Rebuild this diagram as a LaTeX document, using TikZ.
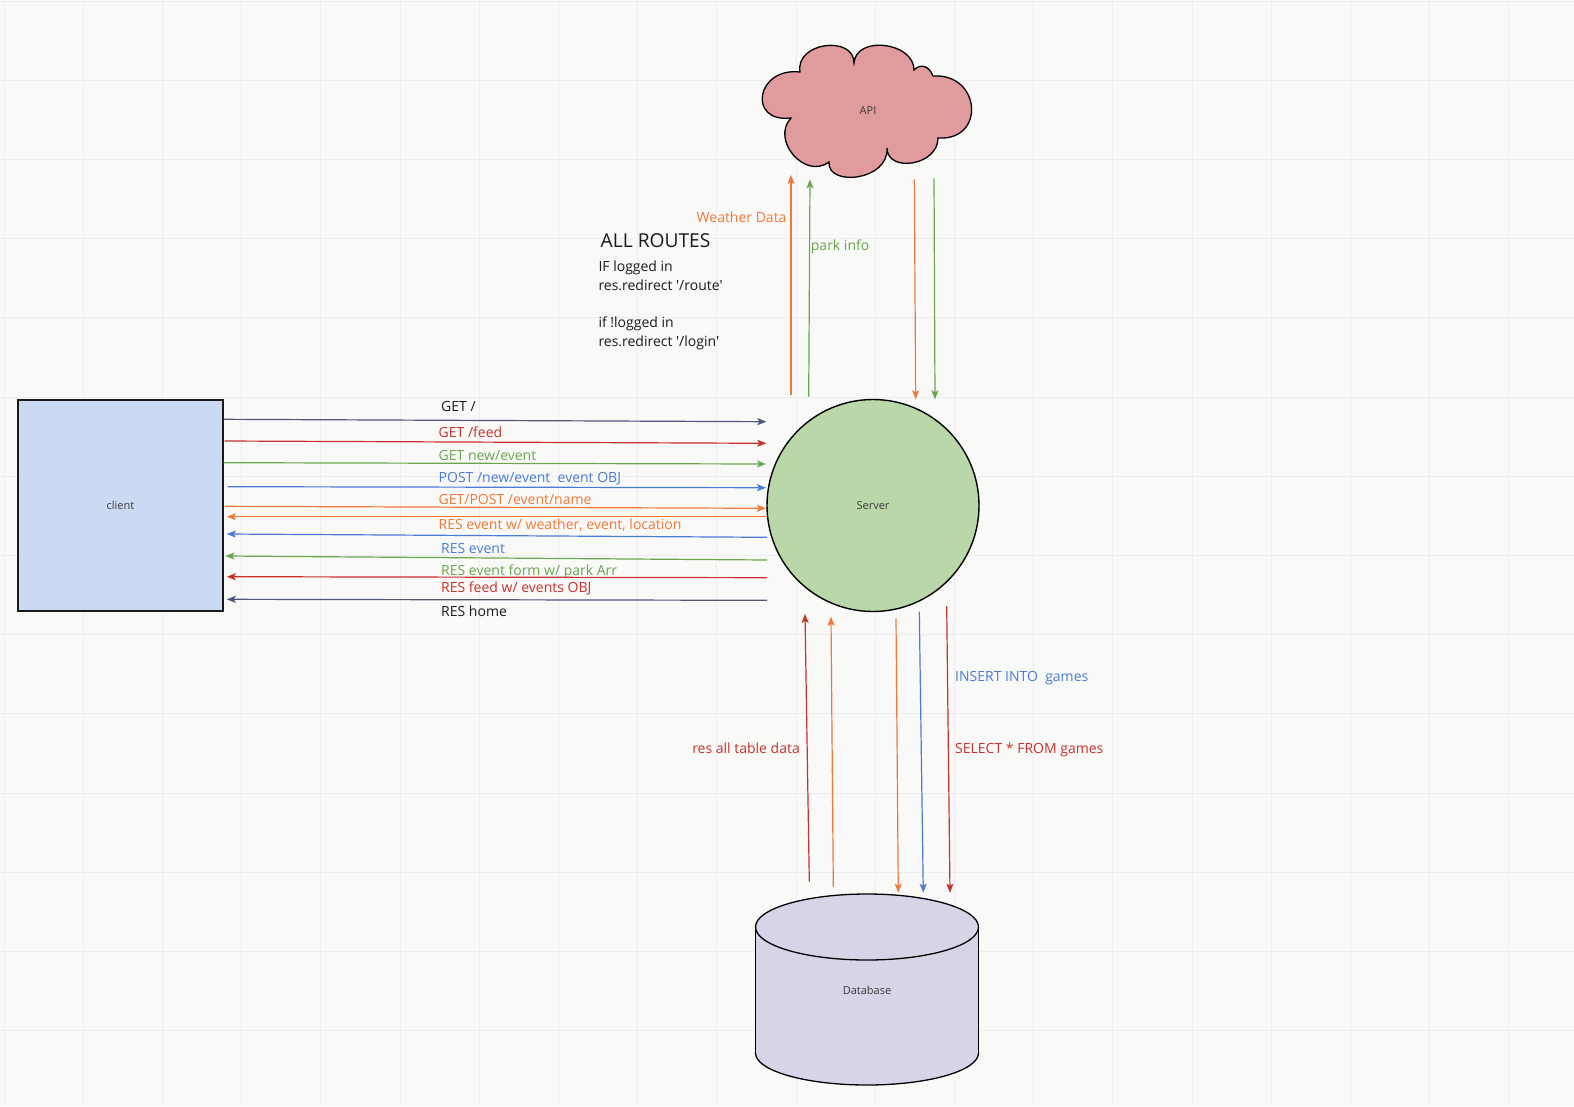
\documentclass[tikz,border=0pt]{standalone}
\usepackage{fontspec}
\newfontfamily\osans{Open Sans}
\usetikzlibrary{arrows.meta}
\definecolor{bgc}{HTML}{F9F9F8}
\definecolor{gridc}{HTML}{ECECF1}
\definecolor{navyc}{HTML}{4F5677}
\definecolor{redc}{HTML}{C8312B}
\definecolor{greenc}{HTML}{6BA550}
\definecolor{bluec}{HTML}{4A7BD6}
\definecolor{orangec}{HTML}{F0783A}
\definecolor{inkc}{HTML}{1A1A1A}
\definecolor{cloudfill}{HTML}{E09C9C}
\definecolor{serverfill}{HTML}{BAD7AA}
\definecolor{clientfill}{HTML}{CBDAF3}
\definecolor{dbfill}{HTML}{D9D3E7}
\begin{document}
\begin{tikzpicture}[x=1pt,y=-1pt,
  arr/.style={line width=1.2pt,-{Stealth[length=9pt,width=7pt,inset=2pt]}},
  lbl/.style={font=\osans\fontsize{14}{17}\selectfont,inner sep=0pt,anchor=base west},
  lble/.style={lbl,anchor=base east},
  shapelbl/.style={font=\osans\fontsize{11}{13}\selectfont,text=inkc!85},
  outline/.style={draw=black,line width=1.4pt}]

% canvas and grid
\fill[bgc] (0,0) rectangle (1574,1106);
\useasboundingbox (0,0) rectangle (1574,1106);
\foreach \k in {0,...,19} \draw[gridc,line width=1pt] ({4+79.2*\k},0) -- ({4+79.2*\k},1106);
\foreach \k in {0,...,13} \draw[gridc,line width=1pt] (0,{1+79.2*\k}) -- (1574,{1+79.2*\k});

% client
\node[draw=inkc,line width=1.8pt,fill=clientfill,minimum width=205pt,minimum height=211pt,shapelbl]
  (client) at (120.5,505.5) {client};

% server
\node[circle,outline,fill=serverfill,minimum size=212pt,inner sep=0pt,shapelbl]
  (server) at (873,505.5) {Server};

% API cloud
\filldraw[fill=cloudfill,draw=black,line width=1.3pt]
  (791,118) .. controls (747,123) and (756,67) .. (800,72)
  .. controls (795,42) and (854,35) .. (854,63)
  .. controls (856,35) and (914,42) .. (914,70)
  .. controls (921,63) and (929,66) .. (933,76)
  .. controls (981,73) and (986,141) .. (938,138)
  .. controls (938,166) and (887,173) .. (887,148)
  .. controls (889,181) and (827,187) .. (829,162)
  .. controls (805,180) and (770.5,140) .. cycle;
\node[shapelbl] (api) at (868,111) {API};

% database cylinder
\filldraw[fill=dbfill,draw=black,line width=1.3pt] (867,1053) ellipse[x radius=111.5,y radius=32];
\fill[dbfill] (755.7,927) rectangle (978.7,1053);
\draw[black,line width=1.3pt] (755.7,927) -- (755.7,1053) (978.7,927) -- (978.7,1053);
\filldraw[fill=dbfill,draw=black,line width=1.3pt] (867,927) ellipse[x radius=111.5,y radius=33];
\node[shapelbl] (db) at (867,990) {Database};

% requests client -> server
\coordinate (g1s) at (223.7,419.3); \coordinate (g1e) at (766.3,421.7);
\coordinate (g2s) at (224.5,441);   \coordinate (g2e) at (766.3,443.3);
\coordinate (g3s) at (223.7,462.7); \coordinate (g3e) at (766,464);
\coordinate (g4s) at (227.6,486.7); \coordinate (g4e) at (766,487.7);
\coordinate (g5s) at (224.9,506.3); \coordinate (g5e) at (766,508.3);
\draw[arr,navyc]   (g1s) -- (g1e);
\draw[arr,redc]    (g2s) -- (g2e);
\draw[arr,greenc]  (g3s) -- (g3e);
\draw[arr,bluec]   (g4s) -- (g4e);
\draw[arr,orangec] (g5s) -- (g5e);

% responses server -> client
\coordinate (r1s) at (767,516.7); \coordinate (r1e) at (226.8,516.7);
\coordinate (r2s) at (767,537.3); \coordinate (r2e) at (226.8,534);
\coordinate (r3s) at (767,560);   \coordinate (r3e) at (225.3,556);
\coordinate (r4s) at (767,577.7); \coordinate (r4e) at (226.8,576.7);
\coordinate (r5s) at (767,600.3); \coordinate (r5e) at (226.8,599.3);
\draw[arr,orangec] (r1s) -- (r1e);
\draw[arr,bluec]   (r2s) -- (r2e);
\draw[arr,greenc]  (r3s) -- (r3e);
\draw[arr,redc]    (r4s) -- (r4e);
\draw[arr,navyc]   (r5s) -- (r5e);

\node[lbl,text=inkc]    (t1)  at (441,411.6) {GET /};
\node[lbl,text=redc]    (t2)  at (438.5,437.7) {GET /feed};
\node[lbl,text=greenc]  (t3)  at (438.5,460) {GET new/event};
\node[lbl,text=bluec]   (t4)  at (438.5,482.7) {POST /new/event\ \ event OBJ};
\node[lbl,text=orangec] (t5)  at (438.5,504.3) {GET/POST /event/name};
\node[lbl,text=orangec] (t6)  at (438.5,529) {RES event w/ weather, event, location};
\node[lbl,text=bluec]   (t7)  at (441,553.3) {RES event};
\node[lbl,text=greenc]  (t8)  at (441,575) {RES event form w/ park Arr};
\node[lbl,text=redc]    (t9)  at (441,592.3) {RES feed w/ events OBJ};
\node[lbl,text=inkc]    (t10) at (441,616.7) {RES home};

% server <-> API
\coordinate (w1s) at (791,395);     \coordinate (w1e) at (791,175);
\coordinate (p1s) at (808.7,396.7); \coordinate (p1e) at (810,179.3);
\coordinate (w2s) at (914.3,179.3); \coordinate (w2e) at (915.7,399.3);
\coordinate (p2s) at (934,178.3);   \coordinate (p2e) at (935,399.3);
\draw[arr,orangec] (w1s) -- (w1e);
\draw[arr,greenc]  (p1s) -- (p1e);
\draw[arr,orangec] (w2s) -- (w2e);
\draw[arr,greenc]  (p2s) -- (p2e);
\node[lble,text=orangec] (wd) at (786.7,222.7) {Weather Data};
\node[lbl,text=greenc]   (pi) at (810.7,250.7) {park info};

% routing notes
\node[lbl,text=inkc,font=\osans\fontsize{19.2}{23}\selectfont] (routes) at (600.5,247.3) {ALL ROUTES};
\node[lbl,text=inkc] (n1) at (598.3,271.7) {IF logged in};
\node[lbl,text=inkc] (n2) at (598.3,290.3) {res.redirect '/route'};
\node[lbl,text=inkc] (n3) at (598.3,327.7) {if !logged in};
\node[lbl,text=inkc] (n4) at (598.3,346.3) {res.redirect '/login'};

% server <-> database
\coordinate (d1s) at (809.3,881.7); \coordinate (d1e) at (805,614);
\coordinate (d2s) at (833.3,886.7); \coordinate (d2e) at (831,616.7);
\coordinate (q1s) at (896,618.3);   \coordinate (q1e) at (898.3,892.7);
\coordinate (q2s) at (919.3,611.7); \coordinate (q2e) at (923.3,892.7);
\coordinate (q3s) at (946.7,606);   \coordinate (q3e) at (950,892.7);
\draw[arr,redc]    (d1s) -- (d1e);
\draw[arr,orangec] (d2s) -- (d2e);
\draw[arr,orangec] (q1s) -- (q1e);
\draw[arr,bluec]   (q2s) -- (q2e);
\draw[arr,redc]    (q3s) -- (q3e);
\node[lble,text=redc] (rt) at (800,753.3) {res all table data};
\node[lbl,text=bluec] (ins) at (955,681) {INSERT INTO\ \ games};
\node[lbl,text=redc]  (sel) at (955,753.3) {SELECT * FROM games};
\end{tikzpicture}
\end{document}
